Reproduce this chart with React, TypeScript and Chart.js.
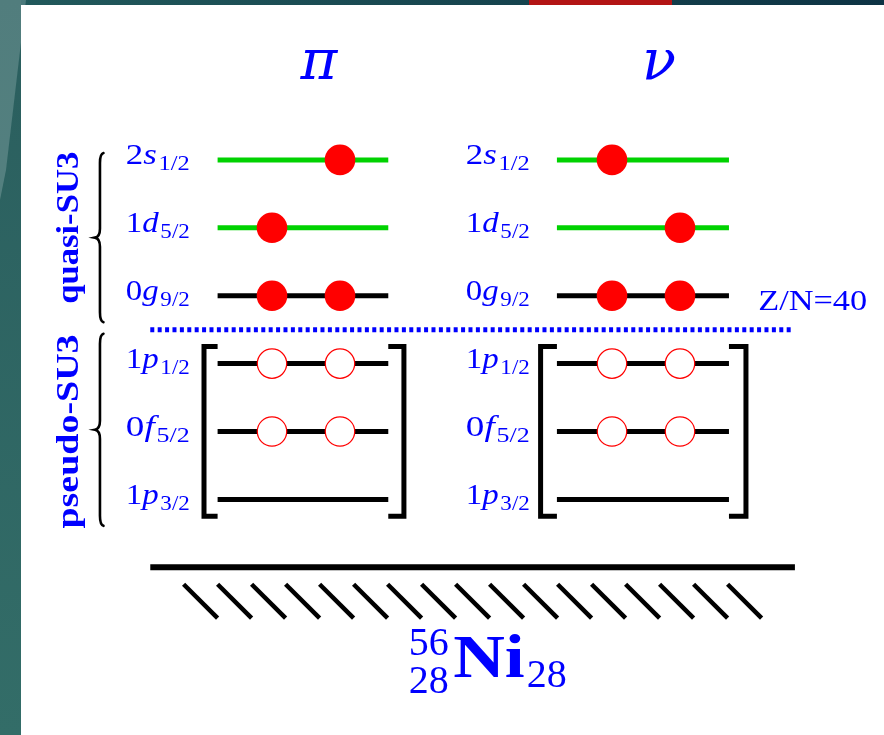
import React, { useEffect, useRef } from "react";
import { Chart, registerables } from "chart.js";
Chart.register(...registerables);

// ---------- data ----------
// single-particle levels, bottom to top (level index = y value)
const levelN = ["1", "0", "1", "0", "1", "2"];
const levelL = ["p", "f", "p", "g", "d", "s"];
const levelJ = ["3/2", "5/2", "1/2", "9/2", "5/2", "1/2"];
const levelY = [0, 1, 2, 3, 4, 5];
const levelColorKey = ["black", "black", "black", "black", "green", "green"];

const columnSymbols = ["π", "ν"];
// occupied orbitals above the shell closure: [slot, level]
const protonParticles = [[2, 5], [1, 4], [1, 3], [2, 3]];
const neutronParticles = [[6, 5], [7, 4], [6, 3], [7, 3]];
// holes below the shell closure: [slot, level]
const protonHoles = [[1, 2], [2, 2], [1, 1], [2, 1]];
const neutronHoles = [[6, 2], [7, 2], [6, 1], [7, 1]];

const closureLevel = 2.5;
const closureLabel = "Z/N=40";
const groupLabels = ["quasi-SU3", "pseudo-SU3"];
const groupCenters = [4, 1];
const coreLevel = -1;
const hatchStarts = [-0.3, 0.2, 0.7, 1.2, 1.7, 2.2, 2.7, 3.2, 3.7, 4.2, 4.7, 5.2, 5.7, 6.2, 6.7, 7.2, 7.7];
const nucleusMass = "56";
const nucleusZ = "28";
const nucleusN = "28";
const nucleusSymbol = "Ni";

// ---------- layout (value units of the chart scales) ----------
const L = {
  xMin: -3, xMax: 10, yMin: -3.47, yMax: 7.355,
  lineStart: [0.2, 5.19], lineEnd: [2.71, 7.72],
  bracketLeft: [0, 4.95], bracketRight: [2.94, 7.97],
  bracketTop: 2.25, bracketBottom: -0.25,
  labelX: [-1.15, 3.85], labelW: 64,
  symbolX: [1.69, 6.69], symbolY: 6.19,
  closureFrom: -0.79, closureTo: 8.66,
  closureLabelX: 8.15, closureLabelY: 2.79,
  coreFrom: -0.79, coreTo: 8.69,
  hatchTop: -1.25, hatchBottom: -1.75, hatchDx: 0.5,
  groupTextX: -1.853, braceX: -1.53,
  braceRanges: [[5.1, 2.61], [2.44, -0.39]],
  groupTextLen: [152, 194],
  nucleusX: 3.01, nucleusY: -2.61,
};

const BLUE = "#0000ff";
const GREEN = "#00d200";
const RED = "#ff0000";
const SERIF = "'Liberation Serif', 'Times New Roman', serif";

function drawFit(ctx: CanvasRenderingContext2D, text: string, font: string, x: number, y: number, width: number | null, align: "left" | "center" = "left") {
  ctx.save();
  ctx.font = font;
  const w = ctx.measureText(text).width;
  const s = width ? width / w : 1;
  ctx.translate(x, y);
  ctx.scale(s, 1);
  ctx.textAlign = "left";
  ctx.textBaseline = "alphabetic";
  ctx.fillText(text, align === "center" ? -w / 2 : 0, 0);
  ctx.restore();
}

function drawLevelLabel(ctx: CanvasRenderingContext2D, n: string, l: string, j: string, x: number, y: number, width: number) {
  const parts = [
    { t: n, f: `30px ${SERIF}`, dy: 0 },
    { t: l, f: `italic 30px ${SERIF}`, dy: 0 },
    { t: j, f: `21px ${SERIF}`, dy: 6 },
  ];
  let total = 0;
  const ws: number[] = [];
  parts.forEach((p, i) => {
    ctx.font = p.f;
    const w = ctx.measureText(p.t).width + (i === 1 ? 1.5 : 0);
    ws.push(w);
    total += w;
  });
  const s = width / total;
  ctx.save();
  ctx.translate(x, y);
  ctx.scale(s, 1);
  ctx.textBaseline = "alphabetic";
  ctx.textAlign = "left";
  let cx = 0;
  parts.forEach((p, i) => {
    ctx.font = p.f;
    ctx.fillText(p.t, cx, p.dy);
    cx += ws[i];
  });
  ctx.restore();
}

function drawBrace(ctx: CanvasRenderingContext2D, x: number, y1: number, y2: number) {
  const ym = (y1 + y2) / 2;
  ctx.save();
  ctx.strokeStyle = "#000";
  ctx.lineWidth = 2.6;
  ctx.lineCap = "round";
  ctx.beginPath();
  ctx.moveTo(x + 3.5, y1);
  ctx.quadraticCurveTo(x, y1 + 1, x, y1 + 10);
  ctx.lineTo(x, ym - 9);
  ctx.quadraticCurveTo(x, ym - 1, x - 5, ym);
  ctx.quadraticCurveTo(x, ym + 1, x, ym + 9);
  ctx.lineTo(x, y2 - 10);
  ctx.quadraticCurveTo(x, y2 - 1, x + 3.5, y2);
  ctx.stroke();
  ctx.restore();
}

const seg = (x1: number, x2: number, y1: number, y2: number) => [{ x: x1, y: y1 }, { x: x2, y: y2 }];

export default function App() {
  const ref = useRef<HTMLCanvasElement | null>(null);
  useEffect(() => {
    document.body.style.margin = "0";
    const canvas = ref.current!;
    const datasets: any[] = [];

    for (let c = 0; c < 2; c++) {
      levelY.forEach((y, i) => {
        datasets.push({
          type: "line", data: seg(L.lineStart[c], L.lineEnd[c], y, y),
          borderColor: levelColorKey[i] === "green" ? GREEN : "#000", borderWidth: 5,
          pointRadius: 0, borderCapStyle: "butt", order: 5,
        });
      });
      datasets.push({
        type: "line",
        data: [
          { x: L.lineStart[c], y: L.bracketTop }, { x: L.bracketLeft[c], y: L.bracketTop },
          { x: L.bracketLeft[c], y: L.bracketBottom }, { x: L.lineStart[c], y: L.bracketBottom },
        ],
        borderColor: "#000", borderWidth: 5, pointRadius: 0, borderJoinStyle: "miter", borderCapStyle: "butt", order: 5,
      });
      datasets.push({
        type: "line",
        data: [
          { x: L.lineEnd[c], y: L.bracketTop }, { x: L.bracketRight[c], y: L.bracketTop },
          { x: L.bracketRight[c], y: L.bracketBottom }, { x: L.lineEnd[c], y: L.bracketBottom },
        ],
        borderColor: "#000", borderWidth: 5, pointRadius: 0, borderJoinStyle: "miter", borderCapStyle: "butt", order: 5,
      });
    }
    datasets.push({
      type: "line", data: seg(L.closureFrom, L.closureTo, closureLevel, closureLevel),
      borderColor: BLUE, borderWidth: 5, borderDash: [4, 3.4], borderCapStyle: "butt", pointRadius: 0, order: 5,
    });
    datasets.push({
      type: "line", data: seg(L.coreFrom, L.coreTo, coreLevel, coreLevel),
      borderColor: "#000", borderWidth: 6, borderCapStyle: "butt", pointRadius: 0, order: 5,
    });
    hatchStarts.forEach((h) => {
      datasets.push({
        type: "line", data: seg(h, h + L.hatchDx, L.hatchTop, L.hatchBottom),
        borderColor: "#000", borderWidth: 4.5, borderCapStyle: "butt", pointRadius: 0, order: 5,
      });
    });
    datasets.push({
      type: "scatter", data: [...protonParticles, ...neutronParticles].map(([x, y]) => ({ x, y })),
      pointRadius: 15.3, backgroundColor: RED, borderWidth: 0, order: 0,
    });
    datasets.push({
      type: "scatter", data: [...protonHoles, ...neutronHoles].map(([x, y]) => ({ x, y })),
      pointRadius: 14.7, backgroundColor: "#ffffff", borderColor: RED, borderWidth: 1.2, order: 0,
    });

    const decor = {
      id: "decor",
      beforeDraw(chart: any) {
        const ctx = chart.ctx as CanvasRenderingContext2D;
        const W = chart.width, H = chart.height;
        ctx.save();
        const g = ctx.createLinearGradient(0, 0, W, 0);
        g.addColorStop(0, "#225a5c");
        g.addColorStop(1, "#0d3344");
        ctx.fillStyle = g;
        ctx.fillRect(0, 0, W, H);
        const g2 = ctx.createLinearGradient(0, 0, 0, H);
        g2.addColorStop(0, "#2a5e5e");
        g2.addColorStop(1, "#336d68");
        ctx.fillStyle = g2;
        ctx.fillRect(0, 0, 21, H);
        ctx.fillStyle = "rgba(200,220,220,0.25)";
        ctx.beginPath();
        ctx.moveTo(0, 0); ctx.lineTo(26, 0); ctx.lineTo(6, 170); ctx.lineTo(0, 200); ctx.closePath();
        ctx.fill();
        ctx.fillStyle = "#b31414";
        ctx.fillRect(529, 0, 143, 5);
        ctx.fillStyle = "#ffffff";
        ctx.fillRect(21, 5, W - 21, H - 5);
        ctx.restore();
      },
      afterDatasetsDraw(chart: any) {
        const ctx = chart.ctx as CanvasRenderingContext2D;
        const xs = chart.scales.x, ys = chart.scales.y;
        const px = (v: number) => xs.getPixelForValue(v);
        const py = (v: number) => ys.getPixelForValue(v);
        ctx.save();
        ctx.fillStyle = BLUE;
        columnSymbols.forEach((s, c) => {
          drawFit(ctx, s, `italic 56px 'DejaVu Serif', serif`, px(L.symbolX[c]), py(L.symbolY), null, "center");
        });
        for (let c = 0; c < 2; c++) {
          levelY.forEach((y, i) => {
            drawLevelLabel(ctx, levelN[i], levelL[i], levelJ[i], px(L.labelX[c]), py(y) + 4.5, L.labelW);
          });
        }
        drawFit(ctx, closureLabel, `30px ${SERIF}`, px(L.closureLabelX), py(L.closureLabelY), 109);
        groupLabels.forEach((t, k) => {
          ctx.save();
          ctx.translate(px(L.groupTextX), py(groupCenters[k]));
          ctx.rotate(-Math.PI / 2);
          drawFit(ctx, t, `bold 32px ${SERIF}`, 0, 0, L.groupTextLen[k], "center");
          ctx.restore();
          drawBrace(ctx, px(L.braceX), py(L.braceRanges[k][0]), py(L.braceRanges[k][1]));
        });
        const nx = px(L.nucleusX), ny = py(L.nucleusY);
        drawFit(ctx, nucleusMass, `40px ${SERIF}`, nx, ny - 22, 40);
        drawFit(ctx, nucleusZ, `40px ${SERIF}`, nx, ny + 16, 40);
        drawFit(ctx, nucleusSymbol, `bold 62px ${SERIF}`, nx + 44.5, ny, 71.5);
        drawFit(ctx, nucleusN, `40px ${SERIF}`, nx + 118, ny + 10, 40);
        ctx.restore();
      },
    };

    const chart = new Chart(canvas, {
      type: "scatter",
      data: { datasets },
      options: {
        animation: false,
        responsive: false,
        events: [],
        layout: { padding: 0, autoPadding: false },
        plugins: { legend: { display: false }, tooltip: { enabled: false } },
        scales: {
          x: { type: "linear", min: L.xMin, max: L.xMax, display: false },
          y: { type: "linear", min: L.yMin, max: L.yMax, display: false },
        },
      },
      plugins: [decor],
    } as any);
    return () => chart.destroy();
  }, []);
  return (
    <div style={{ position: "absolute", left: 0, top: 0, width: 884, height: 735 }}>
      <canvas ref={ref} width={884} height={735} style={{ display: "block" }} />
    </div>
  );
}
